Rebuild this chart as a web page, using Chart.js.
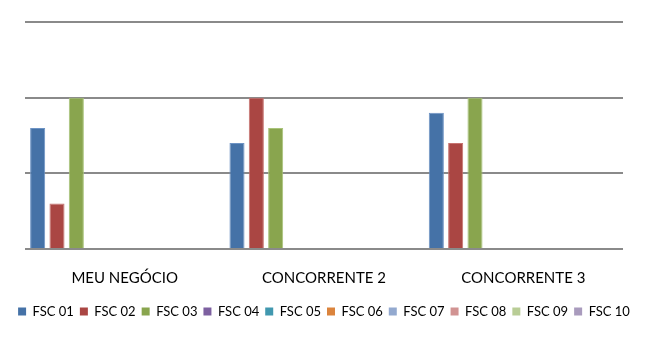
<!DOCTYPE html>
<html>
<head>
<meta charset="utf-8">
<script src="https://cdn.jsdelivr.net/npm/chart.js@4"></script>
<style>
  html, body { margin: 0; padding: 0; background: #fff; }
  #wrap { width: 648px; height: 337px; }
</style>
</head>
<body>
<div id="wrap"><canvas id="chart"></canvas></div>
<script>
// categories and series
const categories = ['MEU NEGÓCIO', 'CONCORRENTE 2', 'CONCORRENTE 3'];
const seriesNames = ['FSC 01', 'FSC 02', 'FSC 03', 'FSC 04', 'FSC 05', 'FSC 06', 'FSC 07', 'FSC 08', 'FSC 09', 'FSC 10'];
const fsc01 = [8, 7, 9];
const fsc02 = [3, 10, 7];
const fsc03 = [10, 8, 10];
const emptySeries = [null, null, null];
const yTicks = [0, 5, 10, 15];

const colors = ['#4572A7', '#AA4643', '#89A54E', '#7D60A0', '#4198AF',
                '#DB843D', '#93A9CF', '#D19392', '#B9CD96', '#A99BBD'];
const borders = ['#6d93c4', '#c77370', '#a9c47a', '#7D60A0', '#4198AF',
                 '#DB843D', '#93A9CF', '#D19392', '#B9CD96', '#A99BBD'];

const seriesValues = [fsc01, fsc02, fsc03, emptySeries, emptySeries,
                      emptySeries, emptySeries, emptySeries, emptySeries, emptySeries];

const datasets = seriesNames.map((name, i) => ({
    label: name,
    data: seriesValues[i],
    backgroundColor: colors[i],
    borderColor: borders[i],
    borderWidth: 1,
    categoryPercentage: 0.97,
    barPercentage: 0.78
}));

new Chart(document.getElementById('chart'), {
    type: 'bar',
    data: { labels: categories, datasets: datasets },
    options: {
        responsive: true,
        maintainAspectRatio: false,
        animation: false,
        layout: { padding: { left: 4, right: 4, top: 22, bottom: 9 } },
        plugins: {
            tooltip: { enabled: false },
            legend: {
                position: 'bottom',
                labels: {
                    boxWidth: 8,
                    boxHeight: 8,
                    padding: 6,
                    color: '#000',
                    font: { family: 'Lato', size: 13 },
                    generateLabels: chart => chart.data.datasets.map((ds, i) => ({
                        text: ds.label,
                        fillStyle: colors[i],
                        strokeStyle: colors[i],
                        lineWidth: 0,
                        datasetIndex: i
                    }))
                }
            }
        },
        scales: {
            x: {
                grid: { display: false },
                border: { display: false },
                ticks: { color: '#000', font: { family: 'Lato', size: 15 }, padding: 12 }
            },
            y: {
                min: 0,
                max: 15,
                afterBuildTicks: axis => { axis.ticks = yTicks.map(v => ({ value: v })); },
                afterFit: axis => { axis.width = 21; },
                ticks: { display: false },
                border: { display: false },
                grid: { color: '#8a8a8a', lineWidth: 2, drawTicks: false }
            },
            yRight: {
                position: 'right',
                min: 0,
                max: 15,
                afterFit: axis => { axis.width = 21; },
                ticks: { display: false },
                border: { display: false },
                grid: { display: false }
            }
        }
    }
});
</script>
</body>
</html>
